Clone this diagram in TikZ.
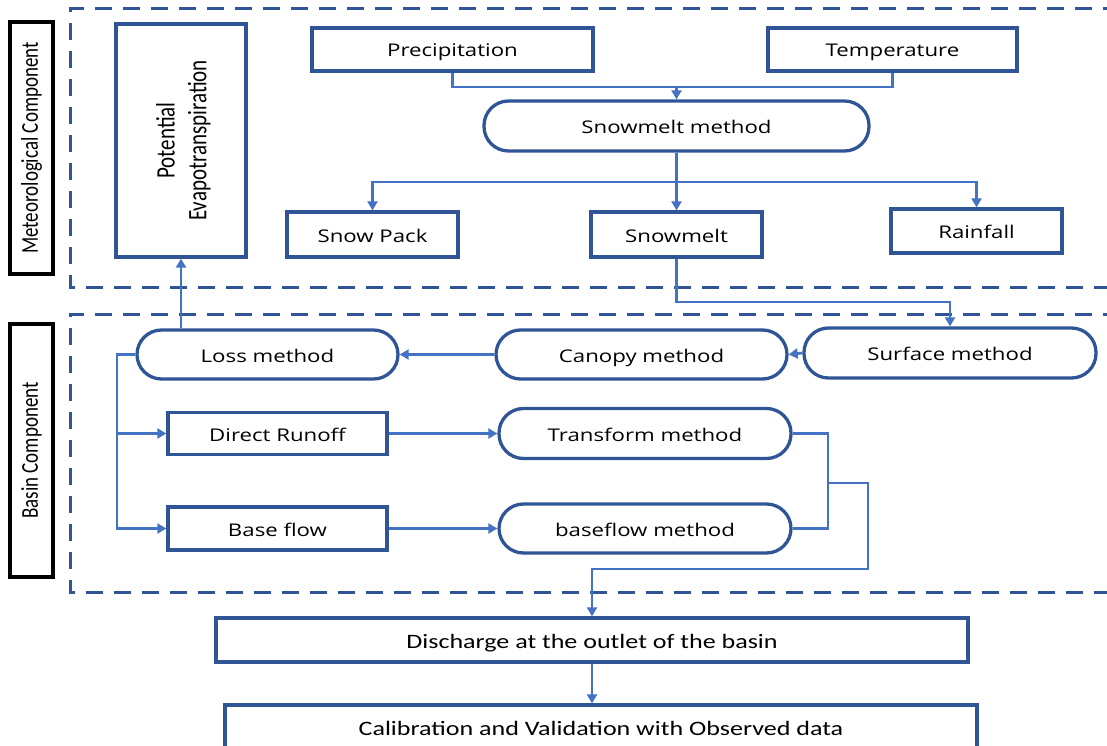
\documentclass[tikz,border=0pt]{standalone}
\usepackage{fontspec}
\setmainfont{Open Sans}
\newfontfamily\lightfont{Carlito}
\usetikzlibrary{arrows.meta}

\definecolor{boxblue}{HTML}{2F5597}
\definecolor{linkblue}{HTML}{4472C4}

% labels are set slightly widened
\newcommand\hstretch[1]{\scalebox{1.27}[1]{#1}}
\newcommand\vstretch[1]{\scalebox{1}[1.27]{#1}}

\tikzset{
  frame/.style={draw=boxblue, line width=3.3pt, rectangle, inner sep=0pt},
  box/.style={frame, font=\fontsize{17.5}{21}\selectfont,
    text height=15pt, text depth=0pt},
  stadium/.style={box, rounded corners=24.5pt},
  thinbox/.style={frame, font=\lightfont\fontsize{20.5}{24}\selectfont,
    text height=16.5pt, text depth=0pt},
  tag/.style={draw=black, line width=4pt, rectangle, inner sep=0pt,
    font=\lightfont\fontsize{19}{22}\selectfont},
  link/.style={draw=linkblue, line width=2.7pt},
  arrow/.style={link, -{Triangle[length=9pt,width=10pt]}},
  region/.style={draw=boxblue, line width=3pt, dash pattern=on 17pt off 11pt}
}

\begin{document}
\begin{tikzpicture}[x=1pt,y=-1pt]
\useasboundingbox (0,0) rectangle (1107,746);

% dashed component regions (open on the right)
\draw[region] (1120,9) -- (70,9) -- (70,287) -- (1120,287);
\draw[region] (1120,314) -- (70,314) -- (70,592) -- (1120,592);

% component tags
\node[tag, minimum width=43pt, minimum height=252pt] (mettag) at (31.5,148)
  {\rotatebox{90}{\vstretch{Meteorological Component}}};
\node[tag, minimum width=43pt, minimum height=253pt] (bastag) at (31.5,450.5)
  {\rotatebox{90}{\vstretch{Basin Component}}};

% meteorological component
\node[frame, minimum width=130pt, minimum height=233pt] (pet) at (181,140.5)
  {\hspace*{7pt}\rotatebox{90}{\vstretch{\lightfont\fontsize{21}{24}\selectfont
   \begin{tabular}{@{}c@{}}Potential\\[1pt]Evapotranspiration\end{tabular}}}};
\node[box, minimum width=281pt, minimum height=43pt] (prec) at (452.5,49.5) {\hstretch{Precipitation}};
\node[box, minimum width=249pt, minimum height=43pt] (temp) at (892.5,49.5) {\hstretch{Temperature}};
\node[stadium, minimum width=385pt, minimum height=50pt] (smm) at (676.5,126) {\hstretch{Snowmelt method}};
\node[box, minimum width=171pt, minimum height=45pt] (spack) at (372.5,234.5) {\hstretch{Snow Pack}};
\node[box, minimum width=171pt, minimum height=45pt] (smelt) at (676.5,234.5) {\hstretch{Snowmelt}};
\node[box, minimum width=171pt, minimum height=44pt] (rain) at (976.5,231) {\hstretch{Rainfall}};

% basin component
\node[stadium, minimum width=261pt, minimum height=49pt] (loss) at (267.5,354.5) {\hstretch{Loss method}};
\node[stadium, minimum width=291pt, minimum height=49pt] (canopy) at (641.5,354.5) {\hstretch{Canopy method}};
\node[stadium, minimum width=292pt, minimum height=50pt] (surface) at (950,353) {\hstretch{Surface method}};
\node[box, minimum width=219pt, minimum height=42pt] (dro) at (277.5,433.5) {\hstretch{Direct Runoff}};
\node[box, minimum width=219pt, minimum height=43pt] (bflow) at (277.5,528.5) {\hstretch{Base flow}};
\node[stadium, minimum width=292pt, minimum height=50pt] (transform) at (645,433.5) {\hstretch{Transform method}};
\node[stadium, minimum width=292pt, minimum height=49pt] (bfm) at (645,528.5) {\hstretch{baseflow method}};

% outlet
\node[thinbox, minimum width=752pt, minimum height=44pt]
  (discharge) at (592,640) {\hstretch{Discharge at the outlet of the basin}};
\node[thinbox, minimum width=752pt, minimum height=44pt]
  (calib) at (601,727) {\hstretch{Calibration and Validation with Observed data}};

% junction points
\coordinate (jin) at (676.5,87);
\coordinate (jsplit) at (676.5,182);
\coordinate (jsurf) at (950,302);
\coordinate (trunk) at (117,354.5);
\coordinate (merge) at (828,483);
\coordinate (jout) at (868,569);

% meteorological links
\draw[link] (prec.south) |- (jin);
\draw[link] (temp.south) |- (jin);
\draw[arrow] (jin) -- (smm.north);
\draw[arrow] (smm.south) -- (smelt.north);
\draw[arrow] (jsplit) -| (spack.north);
\draw[arrow] (jsplit) -| (rain.north);
\draw[arrow] (smelt.south) |- (jsurf) -- (surface.north);

% basin links
\draw[arrow] (surface.west) -- (canopy.east);
\draw[arrow] (canopy.west) -- (loss.east);
\draw[arrow] (pet.south |- loss.north) -- (pet.south);
\draw[arrow] (loss.west) -- (trunk) |- (bflow.west);
\draw[arrow] (trunk |- dro.west) -- (dro.west);
\draw[arrow] (dro.east) -- (transform.west);
\draw[arrow] (bflow.east) -- (bfm.west);
\draw[link] (transform.east) -| (merge) |- (bfm.east);
\draw[arrow] (merge) -| (jout) -| (discharge.north);
\draw[arrow] (discharge.south) -- (discharge.south |- calib.north);
\end{tikzpicture}
\end{document}
